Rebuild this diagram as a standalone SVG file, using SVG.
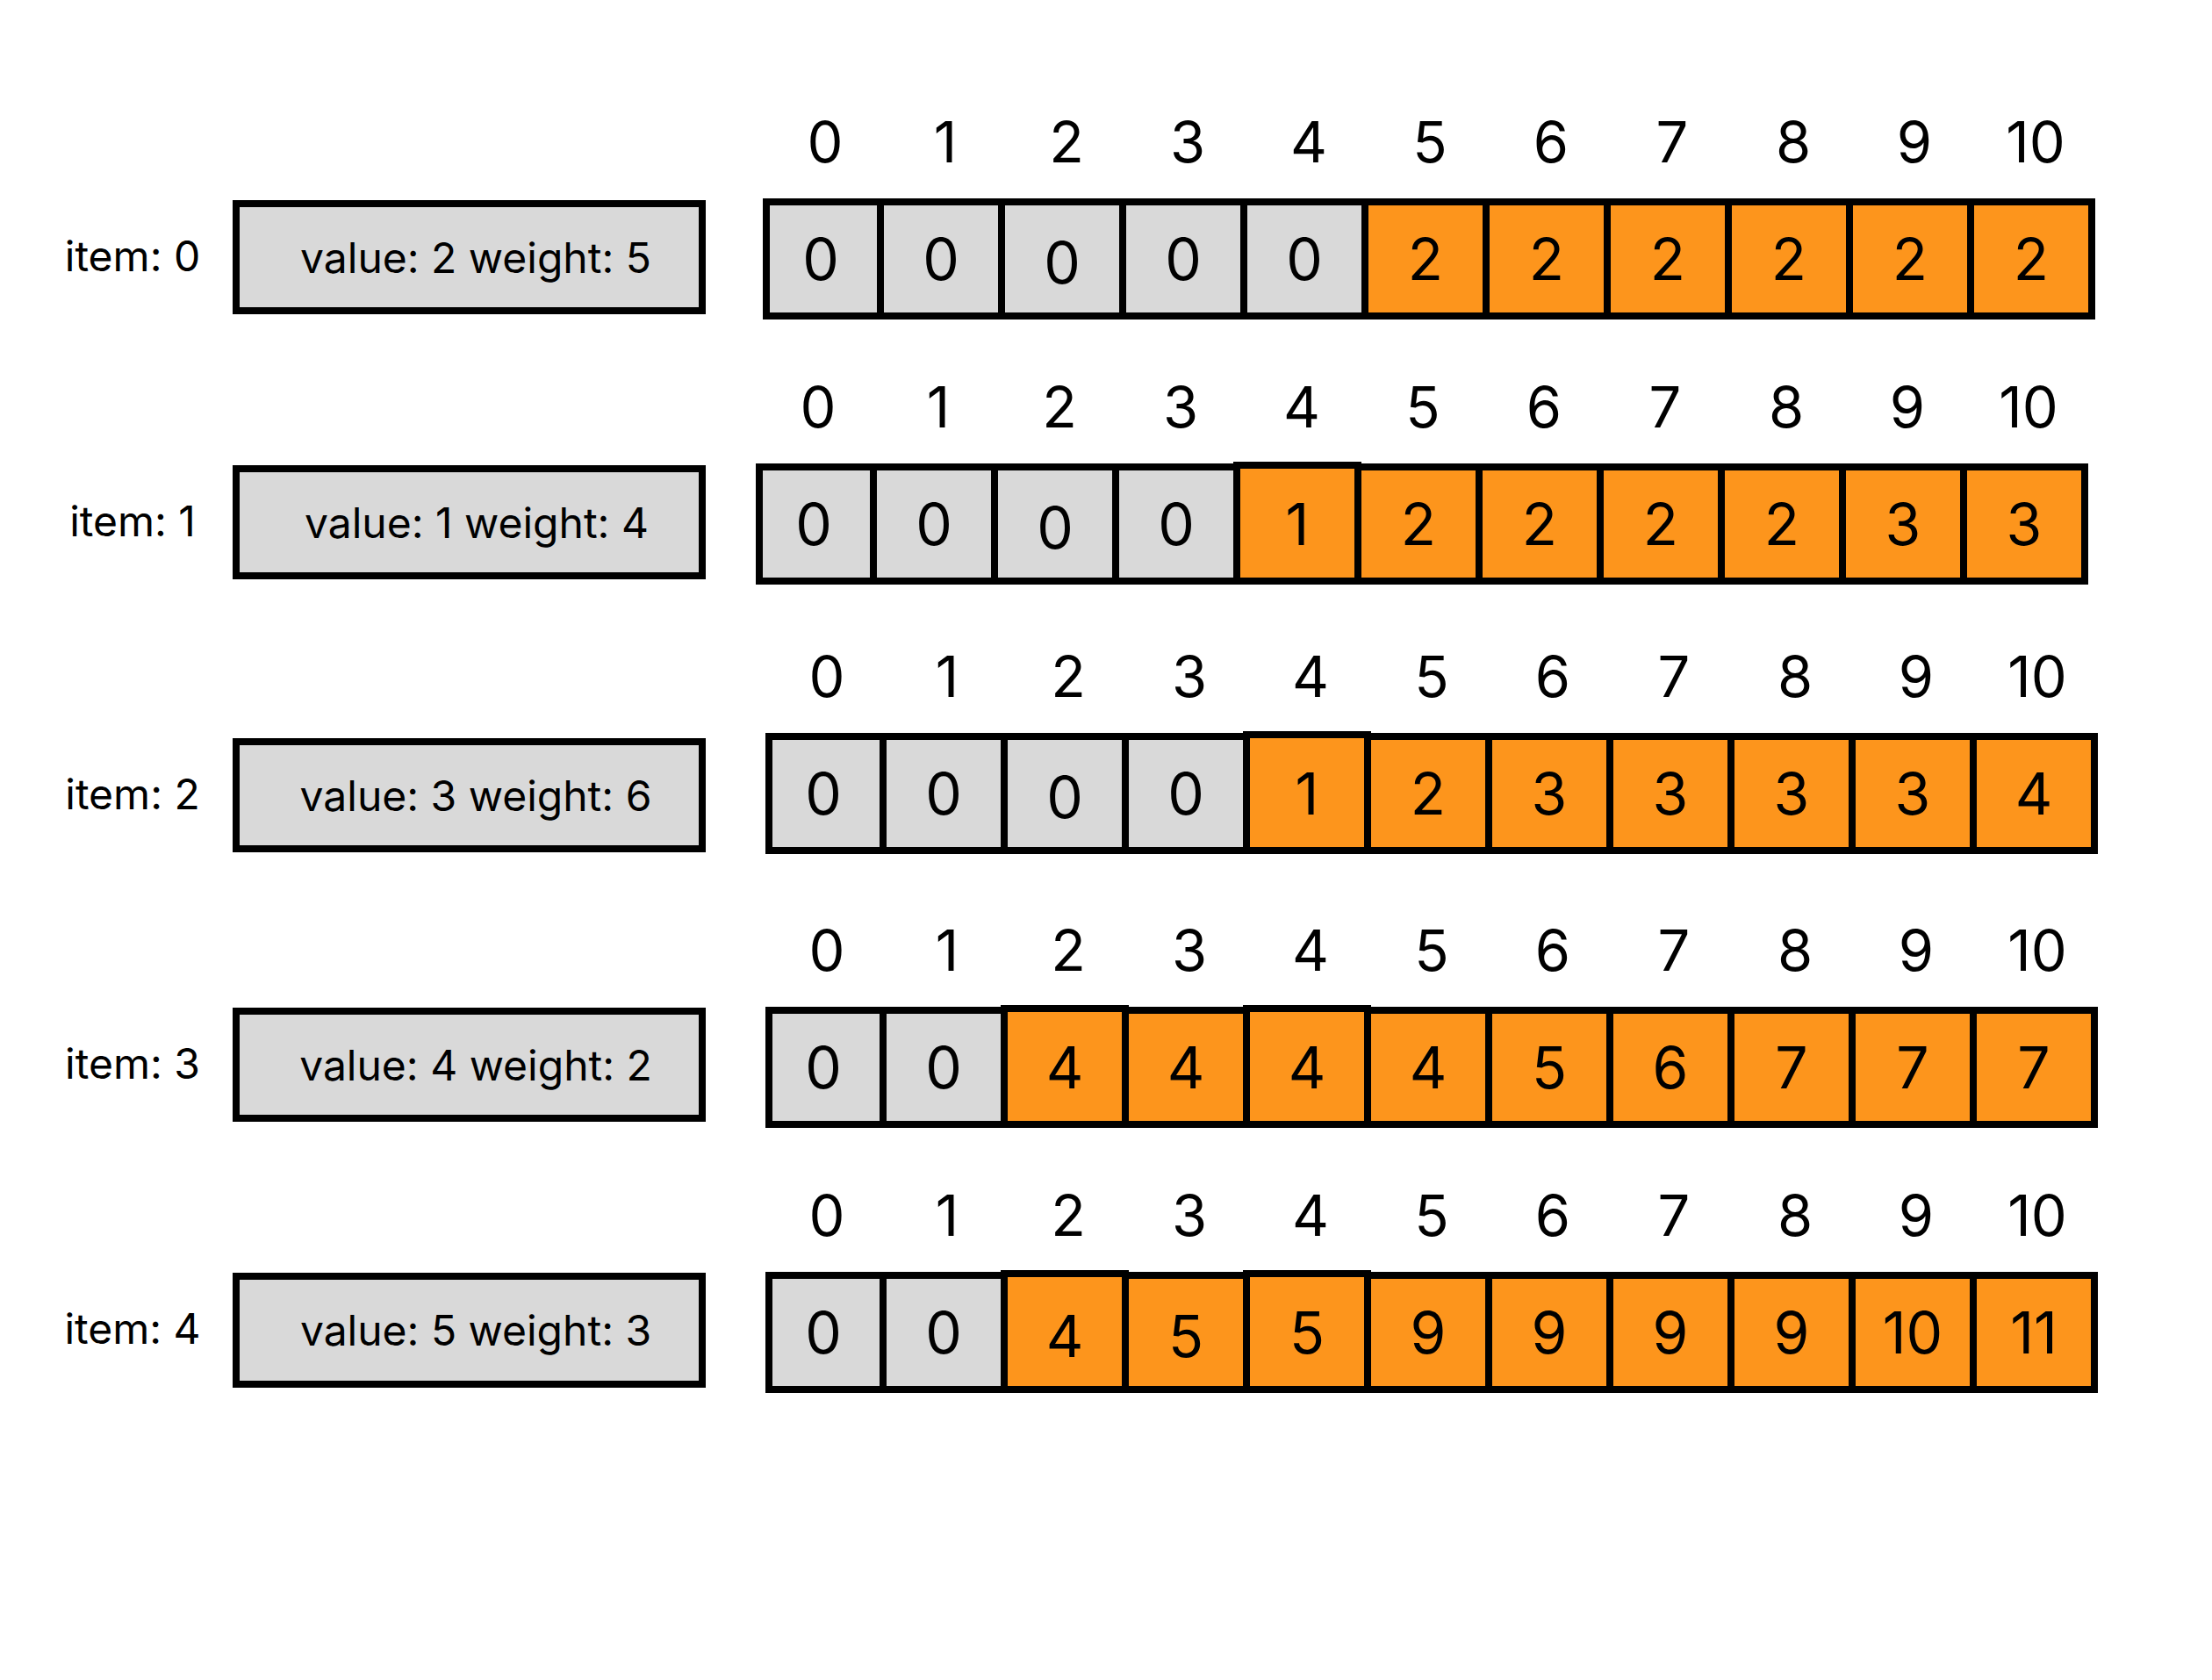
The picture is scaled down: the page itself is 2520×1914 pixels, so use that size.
<svg xmlns="http://www.w3.org/2000/svg" width="2520" height="1914" viewBox="0 0 2520 1914">
<style>
text{font-family:Inter,"Noto Sans","Liberation Sans",sans-serif;fill:#000}
.lbl{font-size:48px;text-anchor:middle}
.idx{font-size:65px;text-anchor:middle}
.val{font-size:66px;text-anchor:middle}
.box{fill:#d9d9d9;stroke:#000;stroke-width:8}
.g{fill:#d9d9d9;stroke:#000;stroke-width:8}
.o{fill:#fd951c;stroke:#000;stroke-width:8}
</style>
<rect width="2520" height="1914" fill="#fff"/>
<g id="row0">
<text class="lbl" x="151" y="309">item: 0</text>
<rect class="box" x="269" y="232" width="531" height="122"/>
<text class="lbl" x="542" y="311">value: 2 weight: 5</text>
<g transform="translate(3,0)">
<text class="idx" x="937" y="185">0</text><text class="idx" x="1074" y="185">1</text><text class="idx" x="1212" y="185">2</text><text class="idx" x="1350" y="185">3</text><text class="idx" x="1488" y="185">4</text><text class="idx" x="1626" y="185">5</text><text class="idx" x="1764" y="185">6</text><text class="idx" x="1902" y="185">7</text><text class="idx" x="2040" y="185">8</text><text class="idx" x="2178" y="185">9</text><text class="idx" x="2316" y="185">10</text>
</g>
<rect class="g" x="873" y="230" width="130" height="130"/><rect class="g" x="1003" y="230" width="138" height="130"/><rect class="g" x="1141" y="230" width="138" height="130"/><rect class="g" x="1279" y="230" width="138" height="130"/><rect class="g" x="1417" y="230" width="138" height="130"/>
<rect class="o" x="1555" y="230" width="138" height="130"/><rect class="o" x="1693" y="230" width="138" height="130"/><rect class="o" x="1831" y="230" width="138" height="130"/><rect class="o" x="1969" y="230" width="138" height="130"/><rect class="o" x="2107" y="230" width="138" height="130"/><rect class="o" x="2245" y="230" width="138" height="130"/>
<text class="val" x="935" y="319">0</text><text class="val" x="1072" y="319">0</text><text class="val" x="1210" y="323">0</text><text class="val" x="1348" y="319">0</text><text class="val" x="1486" y="319">0</text><text class="val" x="1624" y="319">2</text><text class="val" x="1762" y="319">2</text><text class="val" x="1900" y="319">2</text><text class="val" x="2038" y="319">2</text><text class="val" x="2176" y="319">2</text><text class="val" x="2314" y="319">2</text>
</g>
<g id="row1">
<text class="lbl" x="151" y="611">item: 1</text>
<rect class="box" x="269" y="534" width="531" height="122"/>
<text class="lbl" x="543" y="613">value: 1 weight: 4</text>
<g transform="translate(3,0)">
<text class="idx" x="929" y="487">0</text><text class="idx" x="1066" y="487">1</text><text class="idx" x="1204" y="487">2</text><text class="idx" x="1342" y="487">3</text><text class="idx" x="1480" y="487">4</text><text class="idx" x="1618" y="487">5</text><text class="idx" x="1756" y="487">6</text><text class="idx" x="1894" y="487">7</text><text class="idx" x="2032" y="487">8</text><text class="idx" x="2170" y="487">9</text><text class="idx" x="2308" y="487">10</text>
</g>
<rect class="g" x="865" y="532" width="130" height="130"/><rect class="g" x="995" y="532" width="138" height="130"/><rect class="g" x="1133" y="532" width="138" height="130"/><rect class="g" x="1271" y="532" width="138" height="130"/>
<rect class="o" x="1547" y="532" width="138" height="130"/><rect class="o" x="1685" y="532" width="138" height="130"/><rect class="o" x="1823" y="532" width="138" height="130"/><rect class="o" x="1961" y="532" width="138" height="130"/><rect class="o" x="2099" y="532" width="138" height="130"/><rect class="o" x="2237" y="532" width="138" height="130"/>
<rect class="o" x="1409" y="530" width="138" height="132"/>
<text class="val" x="927" y="621">0</text><text class="val" x="1064" y="621">0</text><text class="val" x="1202" y="625">0</text><text class="val" x="1340" y="621">0</text><text class="val" x="1478" y="621">1</text><text class="val" x="1616" y="621">2</text><text class="val" x="1754" y="621">2</text><text class="val" x="1892" y="621">2</text><text class="val" x="2030" y="621">2</text><text class="val" x="2168" y="621">3</text><text class="val" x="2306" y="621">3</text>
</g>
<g id="row2">
<text class="lbl" x="151" y="922">item: 2</text>
<rect class="box" x="269" y="845" width="531" height="122"/>
<text class="lbl" x="542" y="924">value: 3 weight: 6</text>
<g transform="translate(2,0)">
<text class="idx" x="940" y="794">0</text><text class="idx" x="1077" y="794">1</text><text class="idx" x="1215" y="794">2</text><text class="idx" x="1353" y="794">3</text><text class="idx" x="1491" y="794">4</text><text class="idx" x="1629" y="794">5</text><text class="idx" x="1767" y="794">6</text><text class="idx" x="1905" y="794">7</text><text class="idx" x="2043" y="794">8</text><text class="idx" x="2181" y="794">9</text><text class="idx" x="2319" y="794">10</text>
</g>
<rect class="g" x="876" y="839" width="130" height="130"/><rect class="g" x="1006" y="839" width="138" height="130"/><rect class="g" x="1144" y="839" width="138" height="130"/><rect class="g" x="1282" y="839" width="138" height="130"/>
<rect class="o" x="1558" y="839" width="138" height="130"/><rect class="o" x="1696" y="839" width="138" height="130"/><rect class="o" x="1834" y="839" width="138" height="130"/><rect class="o" x="1972" y="839" width="138" height="130"/><rect class="o" x="2110" y="839" width="138" height="130"/><rect class="o" x="2248" y="839" width="138" height="130"/>
<rect class="o" x="1420" y="837" width="138" height="132"/>
<text class="val" x="938" y="928">0</text><text class="val" x="1075" y="928">0</text><text class="val" x="1213" y="932">0</text><text class="val" x="1351" y="928">0</text><text class="val" x="1489" y="928">1</text><text class="val" x="1627" y="928">2</text><text class="val" x="1765" y="928">3</text><text class="val" x="1903" y="928">3</text><text class="val" x="2041" y="928">3</text><text class="val" x="2179" y="928">3</text><text class="val" x="2317" y="928">4</text>
</g>
<g id="row3">
<text class="lbl" x="151" y="1229">item: 3</text>
<rect class="box" x="269" y="1152" width="531" height="122"/>
<text class="lbl" x="542" y="1231">value: 4 weight: 2</text>
<g transform="translate(2,0)">
<text class="idx" x="940" y="1106">0</text><text class="idx" x="1077" y="1106">1</text><text class="idx" x="1215" y="1106">2</text><text class="idx" x="1353" y="1106">3</text><text class="idx" x="1491" y="1106">4</text><text class="idx" x="1629" y="1106">5</text><text class="idx" x="1767" y="1106">6</text><text class="idx" x="1905" y="1106">7</text><text class="idx" x="2043" y="1106">8</text><text class="idx" x="2181" y="1106">9</text><text class="idx" x="2319" y="1106">10</text>
</g>
<rect class="g" x="876" y="1151" width="130" height="130"/><rect class="g" x="1006" y="1151" width="138" height="130"/>
<rect class="o" x="1282" y="1151" width="138" height="130"/><rect class="o" x="1558" y="1151" width="138" height="130"/><rect class="o" x="1696" y="1151" width="138" height="130"/><rect class="o" x="1834" y="1151" width="138" height="130"/><rect class="o" x="1972" y="1151" width="138" height="130"/><rect class="o" x="2110" y="1151" width="138" height="130"/><rect class="o" x="2248" y="1151" width="138" height="130"/>
<rect class="o" x="1144" y="1149" width="138" height="132"/><rect class="o" x="1420" y="1149" width="138" height="132"/>
<text class="val" x="938" y="1240">0</text><text class="val" x="1075" y="1240">0</text><text class="val" x="1213" y="1240">4</text><text class="val" x="1351" y="1240">4</text><text class="val" x="1489" y="1240">4</text><text class="val" x="1627" y="1240">4</text><text class="val" x="1765" y="1240">5</text><text class="val" x="1903" y="1240">6</text><text class="val" x="2041" y="1240">7</text><text class="val" x="2179" y="1240">7</text><text class="val" x="2317" y="1240">7</text>
</g>
<g id="row4">
<text class="lbl" x="151" y="1531">item: 4</text>
<rect class="box" x="269" y="1454" width="531" height="123"/>
<text class="lbl" x="542" y="1533">value: 5 weight: 3</text>
<g transform="translate(2,0)">
<text class="idx" x="940" y="1408">0</text><text class="idx" x="1077" y="1408">1</text><text class="idx" x="1215" y="1408">2</text><text class="idx" x="1353" y="1408">3</text><text class="idx" x="1491" y="1408">4</text><text class="idx" x="1629" y="1408">5</text><text class="idx" x="1767" y="1408">6</text><text class="idx" x="1905" y="1408">7</text><text class="idx" x="2043" y="1408">8</text><text class="idx" x="2181" y="1408">9</text><text class="idx" x="2319" y="1408">10</text>
</g>
<rect class="g" x="876" y="1453" width="130" height="130"/><rect class="g" x="1006" y="1453" width="138" height="130"/>
<rect class="o" x="1282" y="1453" width="138" height="130"/><rect class="o" x="1558" y="1453" width="138" height="130"/><rect class="o" x="1696" y="1453" width="138" height="130"/><rect class="o" x="1834" y="1453" width="138" height="130"/><rect class="o" x="1972" y="1453" width="138" height="130"/><rect class="o" x="2110" y="1453" width="138" height="130"/><rect class="o" x="2248" y="1453" width="138" height="130"/>
<rect class="o" x="1144" y="1451" width="138" height="132"/><rect class="o" x="1420" y="1451" width="138" height="132"/>
<text class="val" x="938" y="1542">0</text><text class="val" x="1075" y="1542">0</text><text class="val" x="1213" y="1546">4</text><text class="val" x="1351" y="1546">5</text><text class="val" x="1489" y="1542">5</text><text class="val" x="1627" y="1542">9</text><text class="val" x="1765" y="1542">9</text><text class="val" x="1903" y="1542">9</text><text class="val" x="2041" y="1542">9</text><text class="val" x="2179" y="1542">10</text><text class="val" x="2317" y="1542">11</text>
</g>
<g id="connectors"/>
</svg>
